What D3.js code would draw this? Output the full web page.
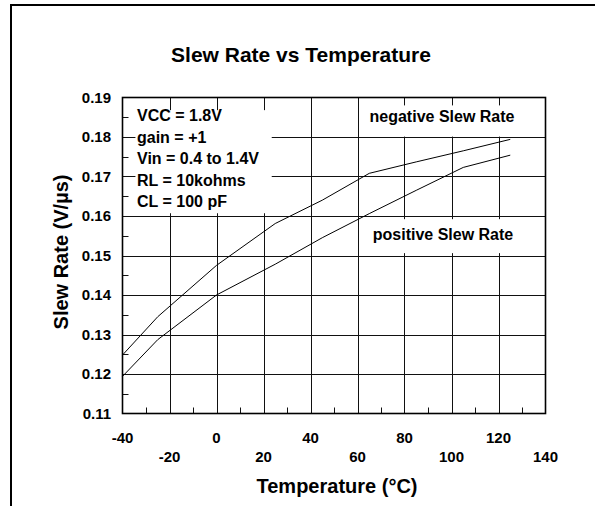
<!DOCTYPE html>
<html>
<head>
<meta charset="utf-8">
<script src="https://cdn.jsdelivr.net/npm/d3@7"></script>
<style>
  body { margin: 0; background: #fff; }
  svg { display: block; font-family: "Liberation Sans", Arial, sans-serif; font-weight: bold; }
</style>
</head>
<body>
<div id="chart"></div>
<script>
// Slew rate vs temperature, two curves

const temps = [-40, -25, 0, 25, 45, 65, 85, 105, 125];
const negativeSlew = [0.1248, 0.1345, 0.1475, 0.1581, 0.1640, 0.1708, 0.1737, 0.1765, 0.1794];
const positiveSlew = [0.1194, 0.1287, 0.1400, 0.1478, 0.1545, 0.1606, 0.1665, 0.1723, 0.1754];

const xTicks = [-40, -20, 0, 20, 40, 60, 80, 100, 120, 140];
const yTicks = [0.11, 0.12, 0.13, 0.14, 0.15, 0.16, 0.17, 0.18, 0.19];
const conditions = ["VCC = 1.8V", "gain = +1", "Vin = 0.4 to 1.4V", "RL = 10kohms", "CL = 100 pF"];

const width = 595, height = 506;
const margin = { top: 97.5, right: 49.5, bottom: 92.5, left: 122.5 };

const svg = d3.select("#chart").append("svg")
    .attr("width", width)
    .attr("height", height);

// Frame (top and left edges only)
svg.append("path")
    .attr("d", "M11,506V5H595")
    .attr("fill", "none")
    .attr("stroke", "#000")
    .attr("stroke-width", 2);

const x = d3.scaleLinear()
    .domain([-40, 140])
    .range([margin.left, width - margin.right]);

const y = d3.scaleLinear()
    .domain([0.11, 0.19])
    .range([height - margin.bottom, margin.top]);

// Title
svg.append("text")
    .attr("x", 301)
    .attr("y", 62)
    .attr("text-anchor", "middle")
    .style("font-size", "21px")
    .text("Slew Rate vs Temperature");

// Grid
const grid = svg.append("g").attr("stroke", "#111").attr("stroke-width", 1);

grid.selectAll(".vgrid")
    .data(xTicks.slice(1, -1))
    .enter().append("line")
    .attr("x1", (d) => Math.round(x(d)) + 0.5)
    .attr("x2", (d) => Math.round(x(d)) + 0.5)
    .attr("y1", y(0.19))
    .attr("y2", y(0.11));

grid.selectAll(".hgrid")
    .data(yTicks.slice(1, -1))
    .enter().append("line")
    .attr("y1", (d) => Math.round(y(d)) + 0.5)
    .attr("y2", (d) => Math.round(y(d)) + 0.5)
    .attr("x1", x(-40))
    .attr("x2", x(140));

// Minor ticks on left and bottom edges
const minorY = d3.range(0.115, 0.19, 0.01);
grid.selectAll(".ytick")
    .data(minorY)
    .enter().append("line")
    .attr("y1", (d) => Math.round(y(d)) + 0.5)
    .attr("y2", (d) => Math.round(y(d)) + 0.5)
    .attr("x1", x(-40))
    .attr("x2", x(-40) + 6);

const minorX = d3.range(-30, 140, 20);
grid.selectAll(".xtick")
    .data(minorX)
    .enter().append("line")
    .attr("x1", (d) => Math.round(x(d)) + 0.5)
    .attr("x2", (d) => Math.round(x(d)) + 0.5)
    .attr("y1", y(0.11))
    .attr("y2", y(0.11) - 6);

// White boxes behind annotations
const boxes = [
    { x0: -34.5, x1: 23.5, y0: 0.1868, y1: 0.1607 },
    { x0: 62, x1: 130, y0: 0.1880, y1: 0.1801 },
    { x0: 63, x1: 130, y0: 0.1592, y1: 0.1506 }
];
svg.selectAll(".box")
    .data(boxes)
    .enter().append("rect")
    .attr("x", (d) => x(d.x0))
    .attr("y", (d) => y(d.y0))
    .attr("width", (d) => x(d.x1) - x(d.x0))
    .attr("height", (d) => y(d.y1) - y(d.y0))
    .attr("fill", "#fff");

// Plot border
svg.append("rect")
    .attr("x", x(-40))
    .attr("y", y(0.19))
    .attr("width", x(140) - x(-40))
    .attr("height", y(0.11) - y(0.19))
    .attr("fill", "none")
    .attr("stroke", "#000")
    .attr("stroke-width", 1.6);

// Curves
const line = d3.line()
    .x((d) => x(d[0]))
    .y((d) => y(d[1]));

[negativeSlew, positiveSlew].forEach(function(series) {
    svg.append("path")
        .datum(temps.map((t, i) => [t, series[i]]))
        .attr("d", line)
        .attr("fill", "none")
        .attr("stroke", "#000")
        .attr("stroke-width", 1);
});

// Y tick labels
svg.selectAll(".ylabel")
    .data(yTicks)
    .enter().append("text")
    .attr("x", 111)
    .attr("y", (d) => y(d))
    .attr("dy", "0.35em")
    .attr("text-anchor", "end")
    .style("font-size", "15px")
    .text((d) => d.toFixed(2));

// X tick labels, staggered in two rows
svg.selectAll(".xlabel")
    .data(xTicks)
    .enter().append("text")
    .attr("x", (d) => x(d))
    .attr("y", (d, i) => i % 2 === 0 ? 443 : 462)
    .attr("text-anchor", "middle")
    .style("font-size", "15px")
    .text((d) => d);

// Axis titles
svg.append("text")
    .attr("x", 337)
    .attr("y", 493)
    .attr("text-anchor", "middle")
    .style("font-size", "20px")
    .text("Temperature (°C)");

svg.append("text")
    .attr("transform", "translate(68," + 252 + ") rotate(-90)")
    .attr("text-anchor", "middle")
    .style("font-size", "20px")
    .text("Slew Rate (V/µs)");

// Annotations
svg.selectAll(".cond")
    .data(conditions)
    .enter().append("text")
    .attr("x", 137)
    .attr("y", (d, i) => 121 + i * 21.5)
    .style("font-size", "16px")
    .text((d) => d);

svg.append("text")
    .attr("x", 442)
    .attr("y", 122)
    .attr("text-anchor", "middle")
    .style("font-size", "16px")
    .text("negative Slew Rate");

svg.append("text")
    .attr("x", 443)
    .attr("y", 240)
    .attr("text-anchor", "middle")
    .style("font-size", "16px")
    .text("positive Slew Rate");
</script>
</body>
</html>
